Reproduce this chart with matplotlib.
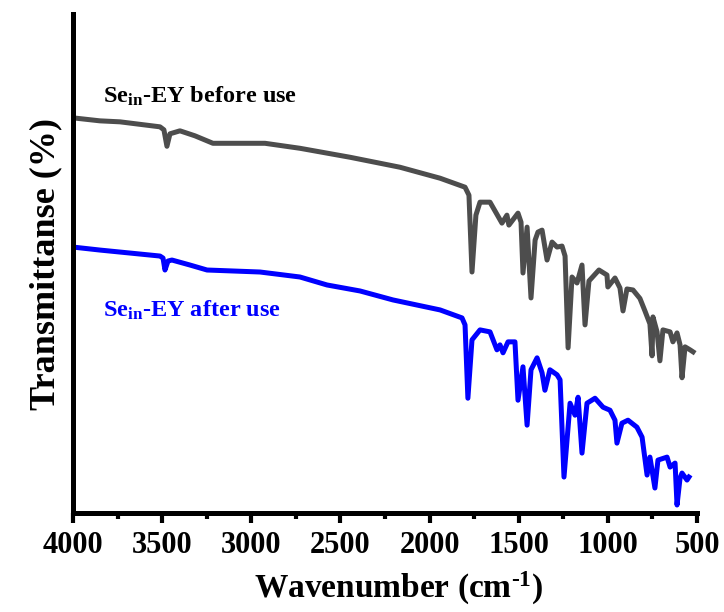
import matplotlib
matplotlib.use("Agg")
import matplotlib.pyplot as plt
from matplotlib.ticker import MultipleLocator

plt.rcParams['font.family'] = ['Liberation Serif', 'DejaVu Serif']
plt.rcParams['font.weight'] = 'bold'
plt.rcParams['axes.labelweight'] = 'bold'
plt.rcParams['mathtext.fontset'] = 'custom'
plt.rcParams['mathtext.rm'] = 'Liberation Serif:bold'
plt.rcParams['mathtext.bf'] = 'Liberation Serif:bold'
plt.rcParams['mathtext.default'] = 'bf'

# FTIR spectrum before use (wavenumber cm-1, transmittance a.u.)
wn_before = [4000, 3849, 3736, 3512, 3490, 3473, 3456, 3400, 3316, 3215, 2923, 2727,
             2446, 2166, 1941, 1801, 1779, 1762, 1740, 1717, 1661, 1594, 1566, 1555,
             1504, 1487, 1476, 1453, 1431, 1408, 1392, 1369, 1341, 1313, 1285, 1257,
             1240, 1223, 1201, 1173, 1145, 1128, 1106, 1050, 1005, 1000, 960, 932, 915,
             893, 859, 820, 792, 764, 752, 747, 724, 708, 691, 651, 635, 612, 595, 584,
             567, 539, 522]
tr_before = [79.2, 78.6, 78.4, 77.4, 76.8, 73.5, 76.0, 76.6, 75.6, 74.1, 74.1, 73.1,
             71.3, 69.3, 67.1, 65.3, 63.7, 48.3, 59.7, 62.3, 62.3, 58.1, 59.7, 57.7,
             60.1, 58.3, 48.1, 57.3, 43.1, 54.7, 56.3, 56.7, 50.7, 54.3, 53.3, 53.5,
             51.5, 33.1, 47.3, 46.1, 49.7, 37.7, 46.5, 48.7, 47.7, 45.3, 47.1, 45.1, 40.5,
             44.9, 44.7, 43.0, 40.5, 37.9, 31.5, 39.3, 36.3, 30.5, 36.7, 36.3, 34.3, 36.1,
             33.7, 27.1, 33.3, 32.7, 32.3]

# FTIR spectrum after use
wn_after = [4000, 3849, 3680, 3512, 3495, 3484, 3467, 3445, 3344, 3248, 2951, 2727,
            2575, 2390, 2205, 1941, 1818, 1801, 1785, 1762, 1717, 1661, 1622, 1605,
            1588, 1560, 1521, 1504, 1476, 1453, 1431, 1397, 1369, 1353, 1325, 1285,
            1268, 1246, 1212, 1184, 1167, 1145, 1117, 1072, 1027, 988, 960, 949,
            921, 887, 837, 808, 780, 764, 736, 719, 668, 651, 623, 612, 595, 584,
            556, 545]
tr_after = [53.3, 52.7, 52.1, 51.5, 51.1, 48.7, 50.5, 50.7, 49.7, 48.7, 48.3, 47.3,
            45.7, 44.5, 42.7, 40.7, 39.1, 37.7, 23.0, 34.7, 36.7, 36.3, 32.7, 33.7,
            32.1, 34.3, 34.3, 22.6, 29.3, 17.6, 28.7, 31.1, 28.1, 24.6, 28.7, 27.7,
            26.7, 7.2, 22.0, 19.6, 23.2, 12.0, 22.0, 23.0, 21.2, 20.6, 18.6, 14.0,
            18.0, 18.6, 17.2, 15.2, 7.6, 11.2, 5.0, 10.6, 11.2, 9.2, 10.0, 1.6,
            7.0, 8.0, 6.6, 7.2]

label_before = r'Se$_{in}$-EY before use'
label_after = r'Se$_{in}$-EY after use'

fig = plt.figure(figsize=(7.24, 6.12), dpi=100)
ax = fig.add_axes([0.1008, 0.1618, 0.8619, 0.8152])

ax.plot(wn_before, tr_before, color='#4d4d4d', lw=3.6, solid_joinstyle='round')
ax.plot(wn_after, tr_after, color='#0000ff', lw=3.6, solid_joinstyle='round')

ax.text(3830, 82.2, label_before, fontsize=17.5, color='black')
ax.text(3830, 39.4, label_after, fontsize=17.5, color='#0000ff')

ax.set_xlim(4000, 500)
ax.set_ylim(0, 100)
ax.xaxis.set_major_locator(MultipleLocator(500))
ax.xaxis.set_minor_locator(MultipleLocator(250))
ax.set_yticks([])

for s in ['top', 'right']:
    ax.spines[s].set_visible(False)
for s in ['left', 'bottom']:
    ax.spines[s].set_linewidth(3.6)

ax.tick_params(axis='x', which='major', direction='out', length=7, width=3,
               labelsize=22, pad=6)
ax.tick_params(axis='x', which='minor', direction='out', length=4, width=3)

ax.set_xlabel(r'Wavenumber (cm$^{\text{-1}}$)', fontsize=24, fontweight='bold', labelpad=6)
ax.xaxis.set_label_coords(0.522, -0.115)
ax.set_ylabel('Transmittanse (%)', fontsize=26, fontweight='bold', labelpad=8)

fig.savefig('out.png', dpi=100)
